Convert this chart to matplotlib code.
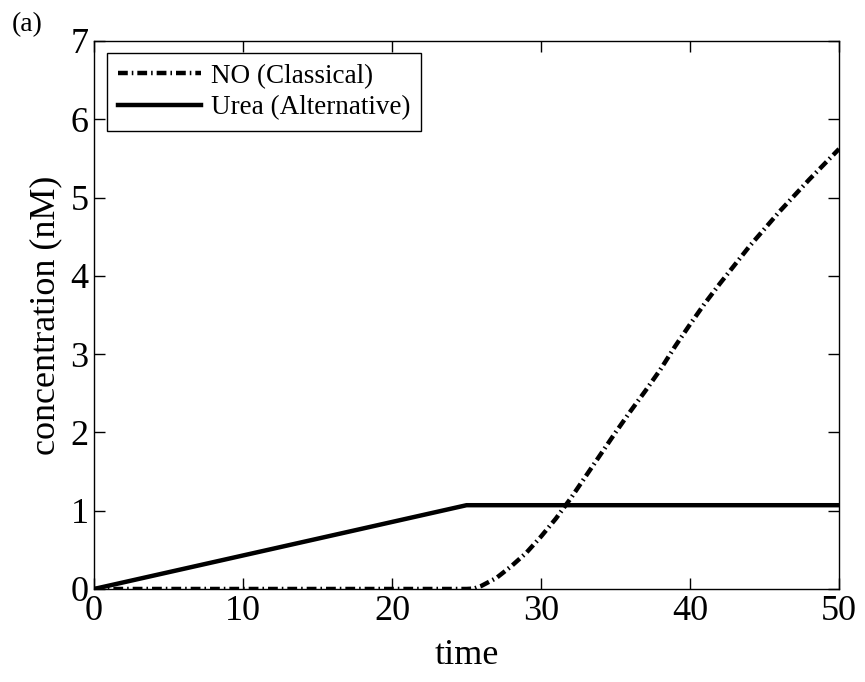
import matplotlib
matplotlib.use("Agg")
import matplotlib.pyplot as plt

plt.rcParams["font.family"] = ["Liberation Serif", "DejaVu Serif"]
plt.rcParams["mathtext.fontset"] = "stix"

# NO production (classical pathway)
t_no = [0, 25, 25.5, 26, 27, 28, 29, 30, 31, 32, 33, 34, 35, 36, 37, 38,
        39, 40, 41, 42, 44, 46, 48, 50]
c_no = [0, 0, 0.005, 0.04, 0.14, 0.29, 0.46, 0.67, 0.9, 1.16, 1.44, 1.72,
        2.0, 2.27, 2.53, 2.8, 3.1, 3.38, 3.65, 3.9, 4.38, 4.82, 5.23, 5.62]

# urea production (alternative pathway)
t_urea = [0, 25, 50]
c_urea = [0, 1.07, 1.07]

fig = plt.figure(figsize=(8.65, 6.82), dpi=100)
ax = fig.add_axes([0.1087, 0.1364, 0.8613, 0.8036])

ax.plot(t_no, c_no, color="black", lw=3.2, dashes=(2.2, 0.9, 0.35, 0.9),
        label="NO (Classical)")
ax.plot(t_urea, c_urea, color="black", lw=3.2, label="Urea (Alternative)")

ax.set_xlim(0, 50)
ax.set_ylim(0, 7)
ax.set_xticks(range(0, 51, 10))
ax.set_yticks(range(0, 8))
ax.tick_params(direction="in", length=8, width=1, labelsize=26,
               top=True, right=True, pad=4)
for s in ax.spines.values():
    s.set_linewidth(1.0)

ax.set_xlabel("time", fontsize=26, labelpad=8)
ax.set_ylabel("concentration (nM)", fontsize=26, labelpad=6)

leg = ax.legend(loc="upper left", bbox_to_anchor=(0.017, 0.978), fontsize=19.5,
                handlelength=3.1, handletextpad=0.35, borderpad=0.4,
                labelspacing=0.25, borderaxespad=0, fancybox=False,
                framealpha=1)
leg.get_frame().set_edgecolor("black")
leg.get_frame().set_linewidth(1.0)

fig.text(0.014, 0.955, "(a)", fontsize=20)

fig.savefig("out.png", dpi=100)
